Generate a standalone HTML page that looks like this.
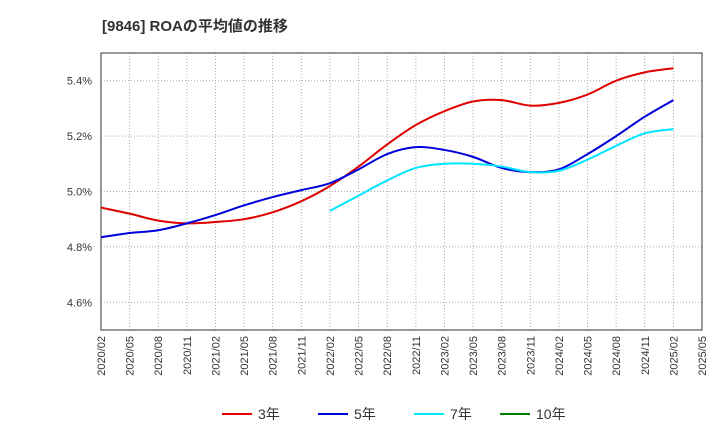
<!DOCTYPE html>
<html><head><meta charset="utf-8">
<style>
body{margin:0;background:#fff;font-family:"Liberation Sans","Noto Sans CJK JP",sans-serif;}
svg text{font-family:"Liberation Sans","Noto Sans CJK JP",sans-serif;}
</style></head>
<body>
<svg id="chart" width="720" height="440">
<text x="102" y="31" font-size="15" font-weight="bold" fill="#333">[9846]  ROAの平均値の推移</text>
<g id="grid"></g>
<rect x="101" y="53" width="601" height="277" fill="none" stroke="#333" stroke-width="1"/>
<g id="series"></g>
<g id="axes"></g>
<g id="legend"></g>
</svg>
<script>
const xLabels=["2020/02","2020/05","2020/08","2020/11","2021/02","2021/05","2021/08","2021/11","2022/02","2022/05","2022/08","2022/11","2023/02","2023/05","2023/08","2023/11","2024/02","2024/05","2024/08","2024/11","2025/02","2025/05"];
const yTicks=[4.6,4.8,5.0,5.2,5.4];
const s3=[4.942,4.92,4.895,4.885,4.89,4.90,4.925,4.965,5.02,5.09,5.17,5.24,5.29,5.325,5.33,5.31,5.32,5.35,5.40,5.43,5.445];
const s5=[4.835,4.85,4.86,4.885,4.915,4.95,4.98,5.005,5.03,5.08,5.135,5.16,5.15,5.125,5.085,5.07,5.08,5.135,5.2,5.27,5.33];
const s7=[null,null,null,null,null,null,null,null,4.93,4.985,5.04,5.085,5.10,5.10,5.09,5.07,5.075,5.115,5.165,5.21,5.225];
const ns="http://www.w3.org/2000/svg";
const X0=101,X1=702,Y0=53,Y1=330,ymin=4.5,ymax=5.5;
const xs=i=>X0+i*(X1-X0)/(xLabels.length-1);
const ys=v=>Y1-(v-ymin)/(ymax-ymin)*(Y1-Y0);
function mk(t,a,p){const e=document.createElementNS(ns,t);for(const k in a)e.setAttribute(k,a[k]);p.appendChild(e);return e;}
const grid=document.getElementById('grid'),axes=document.getElementById('axes'),ser=document.getElementById('series'),leg=document.getElementById('legend');
xLabels.forEach((l,i)=>{
 const g=mk('line',{x1:xs(i),x2:xs(i),y1:Y0,y2:Y1,stroke:'#aaa','stroke-dasharray':'1,2'},grid);
 
 
 const t=mk('text',{transform:`translate(${xs(i)+4},${Y1+6}) rotate(-90)`,'text-anchor':'end','font-size':'11',fill:'#333'},axes);
 t.textContent=l;
 
 
});
yTicks.forEach(v=>{
 const g=mk('line',{x1:X0,x2:X1,y1:ys(v),y2:ys(v),stroke:'#aaa','stroke-dasharray':'1,2'},grid);
 
 
 const t=mk('text',{x:X0-9,y:ys(v)+4,'text-anchor':'end','font-size':'11',fill:'#333'},axes);
 t.textContent=v.toFixed(1)+'%';
 
 
});
function pathFor(arr){
 const pts=[];arr.forEach((v,i)=>{if(v!=null)pts.push([xs(i),ys(v)]);});
 let d=`M${pts[0][0]},${pts[0][1]}`;
 for(let i=0;i<pts.length-1;i++){
  const p0=pts[i-1]||pts[i],p1=pts[i],p2=pts[i+1],p3=pts[i+2]||p2;
  const c1=[p1[0]+(p2[0]-p0[0])/6,p1[1]+(p2[1]-p0[1])/6],c2=[p2[0]-(p3[0]-p1[0])/6,p2[1]-(p3[1]-p1[1])/6];
  d+=`C${c1[0]},${c1[1]} ${c2[0]},${c2[1]} ${p2[0]},${p2[1]}`;
 }
 return d;
}
const series=[[s3,'#e00000','line-3yr'],[s5,'#0000dd','line-5yr'],[s7,'#00e5ff','line-7yr']];
series.forEach(([a,c,n])=>{
 const p=mk('path',{d:pathFor(a),fill:'none',stroke:c,'stroke-width':2},ser);
 
 
});
const legendItems=[['3年','#e00000',222],['5年','#0000dd',318],['7年','#00e5ff',414],['10年','#008000',500]];
legendItems.forEach(([l,c,x])=>{
 const g=mk('g',{},leg);
 
 
 mk('line',{x1:x,x2:x+30,y1:414,y2:414,stroke:c,'stroke-width':2},g);
 const t=mk('text',{x:x+36,y:419,'font-size':'14',fill:'#333'},g);t.textContent=l;
});
</script>
</body></html>
